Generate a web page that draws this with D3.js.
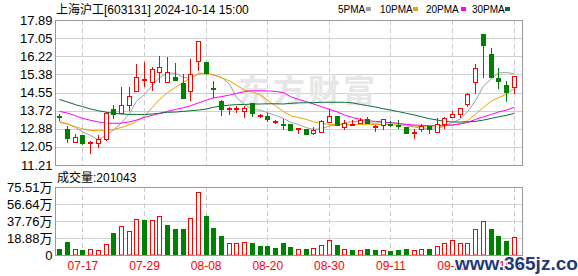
<!DOCTYPE html>
<html><head><meta charset="utf-8">
<script src="https://cdn.jsdelivr.net/npm/d3@7"></script>
<style>
html,body{margin:0;padding:0;background:#fff;}
svg{display:block;}
text{font-family:"Liberation Sans",Arial,"Noto Sans CJK SC",sans-serif;}
</style></head><body>
<svg id="c" width="578" height="276"></svg>
<script>
const dates = ["07-12","07-15","07-16","07-17","07-18","07-19","07-22","07-23","07-24","07-25","07-26","07-29","07-30","07-31",
"08-01","08-02","08-05","08-06","08-07","08-08","08-09","08-12","08-13","08-14","08-15","08-16","08-19","08-20","08-21","08-22","08-23","08-26","08-27","08-28","08-29","08-30",
"09-02","09-03","09-04","09-05","09-06","09-09","09-10","09-11","09-12","09-13","09-18","09-19","09-20","09-23","09-24","09-25","09-26","09-27","09-30",
"10-08","10-09","10-10","10-11","10-14"];
const opens  = [13.45,12.85,12.25,12.59,12.22,12.24,12.39,13.77,13.59,13.96,14.62,15.16,15.03,15.48,15.03,15.28,14.97,14.62,16.02,15.94,
14.75,14.17,13.81,13.82,13.68,14.05,13.46,13.47,13.22,13.12,13.08,12.88,12.87,12.67,12.74,13.19,13.48,12.97,13.07,13.13,
13.31,13.00,13.05,13.10,13.06,12.97,12.69,12.85,13.00,12.74,13.10,13.41,13.54,14.02,15.02,17.23,16.32,15.22,14.88,14.79];
const highs  = [13.55,12.99,12.62,12.59,12.33,12.59,13.65,13.97,14.79,14.82,15.85,15.94,15.74,16.23,16.17,15.92,15.40,16.09,16.93,15.96,
15.09,14.20,13.87,13.93,13.93,14.05,13.55,13.59,13.28,13.34,13.08,12.90,12.87,12.97,13.28,13.77,13.48,13.28,13.28,13.36,
13.40,13.03,13.31,13.24,13.28,12.97,12.85,13.10,13.00,13.36,13.44,13.71,13.82,14.51,15.86,17.23,16.60,15.66,15.08,15.33];
const lows   = [13.28,12.28,12.25,12.18,11.78,12.05,12.36,13.36,13.59,13.74,14.62,14.85,14.66,15.03,15.03,15.13,14.28,14.20,15.59,15.40,
14.33,13.50,13.56,13.67,13.40,13.47,13.40,13.25,13.16,12.85,12.82,12.67,12.62,12.65,12.71,13.19,13.05,12.85,13.05,13.13,
13.13,12.79,12.85,13.00,12.90,12.67,12.44,12.79,12.70,12.74,12.90,13.41,13.43,13.93,14.54,15.28,15.28,14.77,14.17,14.54];
const closes = [13.42,12.44,12.51,12.21,12.27,12.39,13.62,13.54,13.96,14.39,15.25,15.16,15.65,15.71,15.48,15.13,14.28,15.40,16.93,15.43,
14.73,13.77,13.83,13.84,13.85,13.59,13.52,13.31,13.24,13.08,12.82,12.90,12.62,12.82,13.24,13.48,13.07,13.16,13.09,13.27,
13.16,13.02,13.31,13.07,13.04,12.67,12.72,13.00,12.85,13.10,13.36,13.54,13.82,14.48,15.66,16.75,15.28,15.09,14.59,15.33];
const prevClose = 13.50;
// volume in 万 (10k shares)
const volumes = [6.6,14.7,6.3,5.5,6.3,5.2,11.8,24.3,31.7,26.2,40.5,38.7,39.4,42.8,33.2,28.7,28.7,41.6,70.4,43.1,
29.9,21.0,13.3,13.3,14.4,13.3,10.0,10.0,7.7,13.3,8.8,6.3,6.6,7.7,10.7,16.6,11.1,6.3,5.5,5.5,
6.6,5.9,5.5,4.4,5.5,6.6,5.2,6.3,6.6,9.6,13.3,16.6,13.3,13.3,28.4,37.2,28.7,21.0,15.5,20.1043];
const ma5  = [13.17,13.10,12.94,12.74,12.57,12.36,12.60,12.81,13.16,13.58,14.15,14.46,14.88,15.23,15.45,15.43,15.25,15.20,15.44,15.43,
15.35,15.25,14.94,14.32,14.00,13.78,13.73,13.62,13.50,13.35,13.19,13.07,12.93,12.85,12.88,13.01,13.05,13.15,13.21,13.21,
13.15,13.14,13.17,13.17,13.12,13.02,12.96,12.90,12.86,12.87,13.01,13.17,13.33,13.66,14.17,14.85,15.20,15.45,15.47,15.41];
const ma10 = [13.22,13.10,12.97,12.87,12.80,12.79,12.79,12.85,12.94,13.07,13.22,13.47,13.87,14.23,14.54,14.79,15.03,15.22,15.40,15.43,
15.36,15.23,15.09,14.89,14.66,14.57,14.43,14.20,13.93,13.67,13.48,13.40,13.31,13.20,13.13,13.08,13.08,13.08,13.08,13.08,
13.08,13.08,13.07,13.07,13.05,13.04,13.01,12.97,12.96,12.97,13.01,13.05,13.10,13.25,13.56,13.87,14.16,14.31,14.48,14.74];
const ma20 = [13.68,13.60,13.48,13.36,13.27,13.19,13.14,13.13,13.14,13.20,13.28,13.40,13.50,13.59,13.68,13.77,13.85,13.94,14.07,14.20,
14.30,14.36,14.43,14.51,14.59,14.63,14.63,14.62,14.60,14.54,14.36,14.23,14.13,14.02,13.90,13.77,13.65,13.51,13.40,13.31,
13.25,13.22,13.19,13.16,13.13,13.08,13.05,13.04,13.02,13.02,13.04,13.05,13.11,13.17,13.31,13.43,13.54,13.65,13.74,13.87];
const ma30 = [14.23,14.11,13.99,13.90,13.79,13.71,13.64,13.59,13.56,13.54,13.54,13.54,13.56,13.59,13.64,13.65,13.68,13.71,13.74,13.79,
13.87,13.93,13.97,13.99,14.00,14.02,14.02,14.03,14.03,14.02,14.05,14.07,14.08,14.08,14.10,14.10,14.10,14.10,14.07,14.00,
13.94,13.88,13.80,13.74,13.67,13.59,13.51,13.43,13.34,13.28,13.22,13.19,13.19,13.20,13.22,13.28,13.36,13.43,13.50,13.59];
const priceTicks = [17.89,17.05,16.22,15.38,14.55,13.72,12.88,12.05,11.21];
const volTicks = [75.51,56.64,37.76,18.88,0];
const volTickLabels = ["75.51万","56.64万","37.76万","18.88万","0"];
const xTickDates = ["07-17","07-29","08-08","08-20","08-30","09-11","09-25","10-14"];
const maNames = ["5PMA","10PMA","20PMA","30PMA"];
const titleText = "上海沪工[603131] 2024-10-14 15:00";
const volTitle = "成交量:201043";

const RED = "#ff0000", GREEN = "#008000";
const maColors = ["#a0a0a0","#f0a000","#ff00ff","#0a6e36"];
const L = 55.5, R = 522.5, PT = 20, PB = 165, VT = 187, VB = 255;

const svg = d3.select("#c");
const x = d3.scaleBand().domain(dates).range([56, 518]);
const bw = x.bandwidth();
const cx = d => Math.floor(x(d) + bw / 2);
const yP = d3.scaleLinear().domain([11.21, 17.89]).range([PB, PT]);
const yV = d3.scaleLinear().domain([0, 75.51]).range([VB, VT]);

// gridlines
const grid = svg.append("g");
grid.selectAll("line.hp").data(priceTicks).join("line")
  .attr("x1", L).attr("x2", R)
  .attr("y1", d => Math.round(yP(d)) + 0.5).attr("y2", d => Math.round(yP(d)) + 0.5)
  .attr("stroke", "#d0d0d0");
grid.selectAll("line.hv").data(volTicks).join("line")
  .attr("x1", L).attr("x2", R)
  .attr("y1", d => Math.round(yV(d)) + 0.5).attr("y2", d => Math.round(yV(d)) + 0.5)
  .attr("stroke", "#d0d0d0");
xTickDates.forEach(d => {
  const xx = cx(d) + 0.5;
  [[PT, PB], [VT, VB]].forEach(([a, b]) => {
    grid.append("line").attr("x1", xx).attr("x2", xx).attr("y1", a).attr("y2", b)
      .attr("stroke", "#cccccc").attr("stroke-dasharray", "5,3");
  });
});

// watermark
svg.append("text").attr("x", 238).attr("y", 102)
  .attr("font-family", "'Noto Sans CJK SC'").attr("font-weight", "bold")
  .attr("font-size", 32).attr("letter-spacing", 3).attr("fill", "#e6e6e6")
  .text("东方财富");

// MA lines
const idx = d3.range(dates.length);
[ma5, ma10, ma20, ma30].forEach((m, k) => {
  svg.append("path")
    .attr("d", d3.line().x(i => cx(dates[i]) + 0.5).y(i => yP(m[i]))(idx))
    .attr("fill", "none").attr("stroke", maColors[k]).attr("stroke-width", 1);
});

// candles
const kg = svg.append("g");
idx.forEach(i => {
  const o = opens[i], c = closes[i];
  const up = c >= o;
  const col = up ? RED : GREEN;
  const xc = cx(dates[i]);
  kg.append("line").attr("x1", xc + 0.5).attr("x2", xc + 0.5)
    .attr("y1", Math.round(yP(highs[i]))).attr("y2", Math.round(yP(lows[i])) + 1)
    .attr("stroke", col);
  const t = Math.round(yP(Math.max(o, c))), b = Math.round(yP(Math.min(o, c)));
  if (up) {
    kg.append("rect").attr("x", xc - 1.5).attr("y", t + 0.5).attr("width", 4)
      .attr("height", Math.max(1, b - t)).attr("fill", "#fff").attr("stroke", col);
  } else {
    kg.append("rect").attr("x", xc - 2).attr("y", t).attr("width", 5)
      .attr("height", Math.max(2, b - t + 1)).attr("fill", col);
  }
});

// volume bars (colour by close vs previous close)
const vg = svg.append("g");
idx.forEach(i => {
  const pc = i === 0 ? prevClose : closes[i - 1];
  const up = closes[i] >= pc;
  const xc = cx(dates[i]);
  const t = Math.round(yV(volumes[i]));
  if (up) {
    vg.append("rect").attr("x", xc - 1.5).attr("y", t + 0.5).attr("width", 4)
      .attr("height", VB - t - 0.5).attr("fill", "#fff").attr("stroke", RED);
  } else {
    vg.append("rect").attr("x", xc - 2).attr("y", t).attr("width", 5)
      .attr("height", VB - t).attr("fill", GREEN);
  }
});

// panel borders
[[PT, PB], [VT, VB]].forEach(([a, b]) => {
  svg.append("rect").attr("x", L).attr("y", a + 0.5).attr("width", R - L).attr("height", b - a)
    .attr("fill", "none").attr("stroke", "#999");
});

// axes
const ax = svg.append("g").attr("transform", `translate(${L},0)`)
  .call(d3.axisLeft(yP).tickValues(priceTicks).tickFormat(d3.format(".2f")).tickSize(0).tickPadding(3));
ax.select(".domain").remove();
ax.selectAll("text").attr("font-size", 13).attr("fill", "#000").attr("font-family", "'Liberation Sans',Arial");

const av = svg.append("g").attr("transform", `translate(${L},0)`)
  .call(d3.axisLeft(yV).tickValues(volTicks).tickFormat((d, i) => volTickLabels[i]).tickSize(0).tickPadding(3));
av.select(".domain").remove();
av.selectAll("text").attr("font-size", 13).attr("fill", "#000").attr("font-family", "'Liberation Sans','Noto Sans CJK SC'");

const axb = svg.append("g").attr("transform", `translate(0,${VB})`)
  .call(d3.axisBottom(x).tickValues(xTickDates).tickSize(0).tickPadding(6));
axb.select(".domain").remove();
axb.selectAll("text").attr("font-size", 12).attr("fill", RED).attr("font-family", "'Liberation Sans',Arial");

// title & legend
svg.append("text").attr("x", 56).attr("y", 14).attr("font-size", 12).attr("fill", "#000")
  .attr("font-family", "'Liberation Sans','Noto Sans CJK SC'").text(titleText);
svg.append("text").attr("x", 57).attr("y", 182).attr("font-size", 12).attr("fill", "#000")
  .attr("font-family", "'Liberation Sans','Noto Sans CJK SC'").text(volTitle);
const legX = [338, 380, 426, 472], sqX = [366, 413, 461, 505];
maNames.forEach((n, k) => {
  svg.append("text").attr("x", legX[k]).attr("y", 12.5).attr("font-size", 10)
    .attr("font-family", "'DejaVu Sans Mono',monospace").attr("fill", "#000").text(n);
  svg.append("rect").attr("x", sqX[k]).attr("y", 7).attr("width", 5).attr("height", 4).attr("fill", maColors[k]);
});

// site watermark
svg.append("text").attr("x", 455).attr("y", 270).attr("font-size", 19).attr("font-weight", "bold")
  .attr("font-family", "'Liberation Serif',serif").attr("fill", "#1e3a78")
  .attr("stroke", "#fff").attr("stroke-width", 2).attr("paint-order", "stroke")
  .text("www.365jz.com");
</script>
</body></html>
